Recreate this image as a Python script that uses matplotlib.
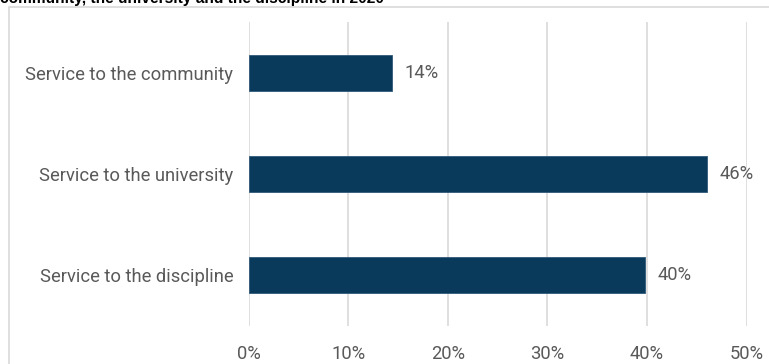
import matplotlib.pyplot as plt
from matplotlib.patches import Rectangle
from matplotlib.ticker import FuncFormatter

categories = ["Service to the community", "Service to the university", "Service to the discipline"]
shares = [14.4, 46.0, 39.8]
value_labels = ["14%", "46%", "40%"]
x_ticks = [0, 10, 20, 30, 40, 50]
title = "community, the university and the discipline in 2020"

BAR = "#0a3a5b"
GRID = "#d9d9d9"
TEXT = "#595959"
FS = 13.2

W, H = 769, 364
fig = plt.figure(figsize=(W / 100, H / 100), dpi=100)
plt.rcParams["font.family"] = ["Roboto", "DejaVu Sans"]

# outer chart frame, clipped by the figure edges on the right and bottom
fig.patches.append(Rectangle((9 / W, -0.1), 1.2, 1 - 7 / H + 0.1, transform=fig.transFigure,
                             fill=False, edgecolor=GRID, linewidth=1.2))
fig.text(0, 1 - 2.8 / H, title, ha="left", va="baseline", fontsize=11.2,
         fontweight="bold", family="Liberation Sans", color="black")

ax = fig.add_axes([248.5 / W, 1 - 326 / H, (746.5 - 248.5) / W, (326 - 22) / H])
y = list(range(len(categories)))
ax.barh(y, shares, height=0.355, color=BAR, edgecolor="#2f5878", linewidth=0.6, zorder=3)
ax.set_ylim(len(categories) - 0.5, -0.5)
ax.set_xlim(0, 50)

for yi, v, lab in zip(y, shares, value_labels):
    ax.annotate(lab, (v, yi), xytext=(13, 0), textcoords="offset pixels",
                ha="left", va="center", fontsize=FS, color=TEXT)

ax.set_xticks(x_ticks)
ax.xaxis.set_major_formatter(FuncFormatter(lambda v, _: f"{v:.0f}%"))
ax.set_yticks(y)
ax.set_yticklabels(categories)
ax.tick_params(axis="both", length=0, labelsize=FS, labelcolor=TEXT)
ax.tick_params(axis="x", pad=14)
ax.tick_params(axis="y", pad=11)
ax.grid(axis="x", color=GRID, linewidth=1.2, zorder=0)
for s in ax.spines.values():
    s.set_visible(False)

fig.savefig("out.png", dpi=100)
